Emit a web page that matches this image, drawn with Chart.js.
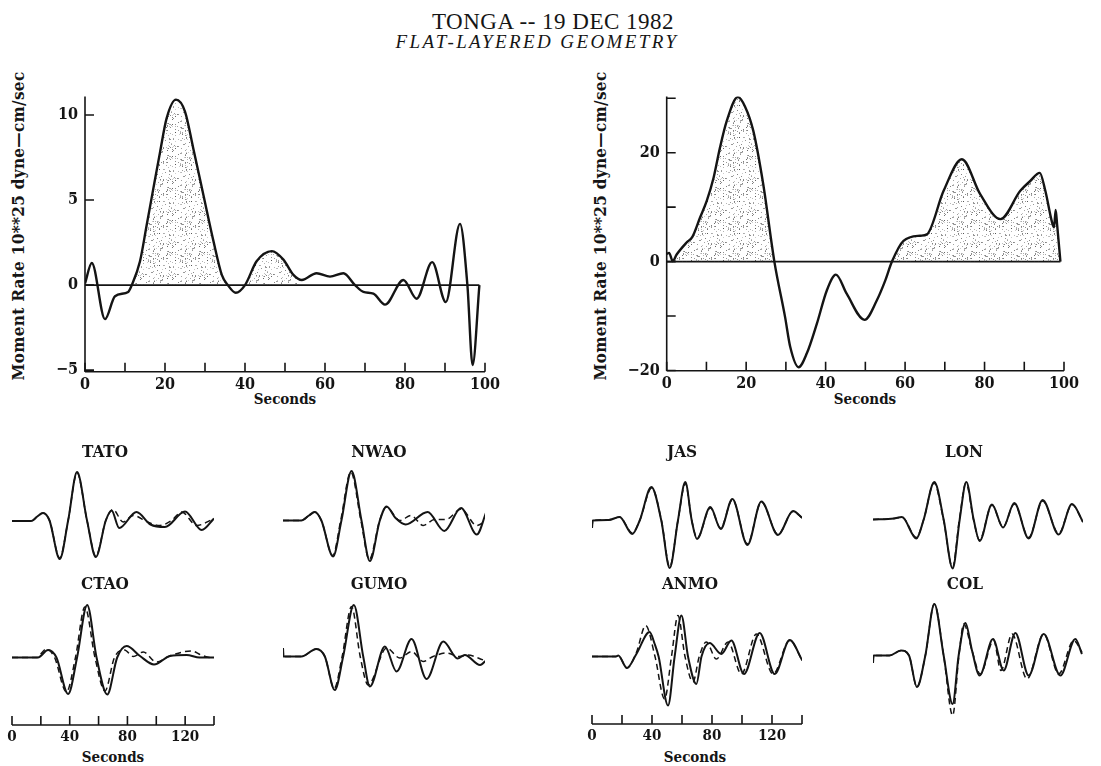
<!DOCTYPE html>
<html>
<head>
<meta charset="utf-8">
<script src="https://cdn.jsdelivr.net/npm/chart.js@4.4.1/dist/chart.umd.min.js"></script>
<style>
  html, body { margin:0; padding:0; background:#fff; }
  body { width:1101px; height:766px; position:relative; overflow:hidden; }
  canvas { position:absolute; }
  .txt { position:absolute; white-space:nowrap; color:#151515; line-height:1; transform:translate(-50%,-50%); }
  .bold { font-family:"DejaVu Serif Condensed","DejaVu Serif",serif; font-weight:bold; }
  .sta { font-size:17px; }
  .sec { font-size:15px; }
  .ylab { font-size:17px; letter-spacing:0.3px; transform:translate(-50%,-50%) rotate(-90deg); }
  #title { font-family:"Liberation Serif","Times New Roman",serif; font-size:23px; letter-spacing:0.5px; }
  #sub { font-family:"Liberation Serif","Times New Roman",serif; font-style:italic; font-size:19px; letter-spacing:2.4px; }
</style>
</head>
<body>
<div class="txt" id="title" style="left:553px;top:21px">TONGA -- 19 DEC 1982</div>
<div class="txt" id="sub" style="left:537px;top:41px">FLAT-LAYERED GEOMETRY</div>
<div class="txt bold ylab" style="left:18px;top:226px">Moment Rate 10**25 dyne—cm/sec</div>
<div class="txt bold ylab" style="left:600px;top:226px">Moment Rate 10**25 dyne—cm/sec</div>
<div class="txt bold sec" style="left:285px;top:399px">Seconds</div>
<div class="txt bold sec" style="left:865px;top:399px">Seconds</div>
<div class="txt bold sec" style="left:113px;top:757px">Seconds</div>
<div class="txt bold sec" style="left:695px;top:757px">Seconds</div>
<script>
// ---------------- DATA ----------------
// Moment rate function, left panel (seconds, 10**25 dyne-cm/sec)
const mrTimeA = [0, 1.7, 5.0, 7.5, 10.8, 11.7, 13.75, 15.4, 17.1, 18.75, 20.4, 22.75, 25.0, 27.1, 29.6, 32.1, 34.2, 35.7, 37.7, 40.0, 42.9, 46.7, 49.6, 52.1, 54.2, 57.9, 61.25, 64.6, 67.5, 69.6, 72.1, 75.0, 79.6, 82.9, 86.8, 90.2, 93.75, 95.6, 96.9, 98.6];
const mrRateA = [0.1, 1.3, -2.0, -0.65, -0.4, 0, 1.4, 3.5, 5.7, 7.8, 9.8, 10.9, 10.2, 8.0, 5.3, 2.6, 0.6, 0, -0.45, 0, 1.4, 2.0, 1.5, 0.6, 0.3, 0.7, 0.5, 0.7, 0, -0.4, -0.5, -1.15, 0.3, -0.8, 1.35, -1.0, 3.6, 0, -4.7, 0];
const mrShadeA = [[11.7, 35.7], [40.0, 52.1]];
const mrTicksA = [-5, 0, 5, 10];

// Moment rate function, right panel
const mrTimeB = [0, 0.6, 1.5, 2.5, 5.0, 6.5, 8.4, 10.1, 11.8, 13.4, 15.1, 17.9, 19.7, 21.8, 24.3, 27.1, 29.8, 31.1, 33.2, 35.3, 37.8, 40.3, 42.6, 45.3, 49.8, 52.9, 55.0, 56.7, 59.6, 63.8, 65.5, 69.7, 74.3, 78.9, 84.0, 89.0, 91.5, 93.9, 95.3, 97.0, 97.5, 97.9, 98.3, 99.1];
const mrRateB = [1.4, 1.6, 0.1, 1.3, 3.5, 4.6, 8.1, 11.2, 15.4, 20.9, 25.8, 30.2, 28.5, 24.0, 14.2, 0, -10.2, -15.7, -19.4, -16.8, -11.4, -5.3, -2.4, -5.9, -10.7, -7.1, -3.5, 0, 3.8, 4.75, 5.0, 13.0, 18.8, 12.4, 7.8, 13.0, 14.8, 16.3, 13.0, 7.2, 6.3, 9.5, 6.5, 0];
const mrShadeB = [[1.5, 27.1], [59.6, 99.1]];
const mrTicksB = [-20, -10, 0, 10, 20, 30];
const mrLabelsB = [-20, 0, 20];

const secTicks = [0, 10, 20, 30, 40, 50, 60, 70, 80, 90, 100];
const secLabels = [0, 20, 40, 60, 80, 100];
const waveTicks = [0, 20, 40, 60, 80, 100, 120, 140];
const waveLabels = [0, 40, 80, 120];

// Waveforms: observed (solid) and synthetic (dashed), seconds vs relative amplitude
const tatoObsT = [0, 13.4, 17.5, 21.5, 26, 33.1, 38.9, 45.1, 52, 58.1, 65, 69, 74.3, 86.3, 96, 106, 119.9, 131.5, 140];
const tatoObsV = [-0.01, -0.01, 0.08, 0.15, 0, -0.77, 0, 0.97, 0, -0.73, 0, 0.2, -0.15, 0.17, -0.08, -0.13, 0.18, -0.19, 0.04];
const tatoSynT = [0, 13.4, 17.5, 21.5, 26, 33.1, 38.9, 45.1, 52, 58.1, 65, 70, 77, 84, 94, 102.5, 110.6, 117.6, 128, 139.6];
const tatoSynV = [-0.01, -0.01, 0.08, 0.15, 0, -0.75, 0, 0.95, 0, -0.71, 0, 0.22, -0.03, 0.1, -0.03, -0.1, 0, 0.17, -0.1, 0.03];

const nwaoObsT = [0, 12.7, 18, 22, 26.6, 34.7, 40.5, 47.5, 54.4, 60.2, 67.1, 71.8, 78, 85, 100.2, 111.8, 123.4, 134.3, 141];
const nwaoObsV = [0, 0, 0.1, 0.17, 0, -0.72, 0, 0.99, 0, -0.81, 0, 0.28, 0.05, -0.08, 0.17, -0.21, 0.25, -0.28, 0.18];
const nwaoSynT = [0, 12.7, 18, 22, 26.6, 34.5, 40, 47, 54, 59.8, 67, 71.5, 81, 88.7, 97.2, 105, 113, 123.4, 134.3, 140];
const nwaoSynV = [0, 0, 0.1, 0.17, 0, -0.7, 0, 0.97, 0, -0.78, 0, 0.27, 0, 0.1, -0.1, 0.02, 0.02, 0.23, -0.1, -0.02];

const ctaoObsT = [0, 18, 25, 30.8, 38.9, 45.1, 52.1, 58.6, 66, 72.9, 79.4, 88.7, 98.4, 109.5, 121, 130, 141];
const ctaoObsV = [0, 0, 0.15, 0, -0.73, 0, 1.05, 0, -0.74, 0, 0.23, 0.03, -0.14, 0.03, 0.05, 0, 0];
const ctaoSynT = [0, 17, 23.8, 29.5, 37.7, 44, 50.5, 57.5, 64.4, 71, 78, 84, 91, 100, 110, 124.5, 131, 139.6];
const ctaoSynV = [0, 0, 0.17, 0, -0.69, 0, 1.01, 0, -0.67, 0, 0.15, 0.02, 0.11, -0.09, 0.04, 0.13, 0.05, -0.02];

const gumoObsT = [0, 0.4, 12.7, 23.1, 29, 35.9, 41.7, 49.1, 55.6, 60.2, 70.6, 78.7, 89.1, 99.5, 111.1, 121, 126, 136.6, 141];
const gumoObsV = [0.17, 0, 0, 0.15, 0, -0.67, 0, 1.03, 0, -0.6, 0.2, -0.3, 0.35, -0.45, 0.3, -0.04, 0.03, -0.17, -0.07];
const gumoSynT = [0, 0.4, 12.7, 23.1, 29, 35.5, 41, 47.5, 53.5, 59, 71.8, 81, 89.1, 97.2, 104, 113.4, 122, 128, 138.9];
const gumoSynV = [0.17, 0, 0, 0.15, 0, -0.64, 0, 1.0, 0, -0.57, 0.17, -0.03, 0.1, -0.1, 0, 0.07, 0, 0.03, -0.07];

const jasObsT = [0, 0.5, 11, 18.4, 26.9, 31.8, 39.6, 46.2, 51.8, 57.3, 62.2, 66.5, 70, 78.9, 85.8, 93.6, 103.6, 112.9, 124, 134, 140.2];
const jasObsV = [-0.15, 0, 0.01, 0.07, -0.27, 0, 0.67, 0, -0.95, 0, 0.77, 0, -0.37, 0.27, -0.17, 0.43, -0.49, 0.38, -0.29, 0.19, 0.05];
const jasSynT = [0, 0.5, 11, 18.4, 26.9, 31.8, 39.8, 46.3, 51.8, 57.3, 62.3, 66.5, 70.2, 78.9, 85.8, 93.6, 103.6, 112.9, 124, 134, 140.2];
const jasSynV = [-0.15, 0, 0.01, 0.07, -0.25, 0, 0.65, 0, -0.93, 0, 0.74, 0, -0.35, 0.25, -0.15, 0.42, -0.47, 0.37, -0.28, 0.18, 0.05];

const lonObsT = [0, 14, 19.3, 28.9, 33.8, 40.9, 47.1, 53.1, 57.8, 62.2, 67.1, 71.1, 79.3, 86.7, 94.2, 103.8, 113.1, 123.8, 132.7, 140];
const lonObsV = [0, 0.02, 0.05, -0.38, 0, 0.75, 0, -0.98, 0, 0.75, 0, -0.43, 0.3, -0.16, 0.33, -0.38, 0.39, -0.3, 0.31, -0.05];
const lonSynT = [0, 14, 19.3, 28.9, 33.8, 40.7, 47, 53, 57.6, 62, 67, 71, 79.3, 86.7, 94.2, 103.8, 113.1, 123.8, 132.7, 140];
const lonSynV = [0, 0.02, 0.05, -0.36, 0, 0.73, 0, -0.96, 0, 0.73, 0, -0.41, 0.29, -0.15, 0.31, -0.36, 0.37, -0.28, 0.3, -0.05];

const anmoObsT = [0, 16, 17.5, 23.3, 29.6, 38.4, 41.8, 44.4, 50.7, 55.1, 59.6, 64, 69.6, 73, 78.4, 86.2, 92.9, 101.3, 111.8, 121.8, 131.8, 140.2];
const anmoObsV = [0, 0, 0.02, -0.23, 0.05, 0.49, 0.25, 0, -0.98, 0, 0.82, 0, -0.55, 0, 0.27, 0.05, 0.32, -0.35, 0.47, -0.35, 0.33, -0.08];
const anmoSynT = [0, 16, 17.5, 23.3, 29.6, 35.8, 42, 48.4, 53, 57.3, 62, 67.3, 71.5, 76.2, 82.9, 90.7, 99.6, 109.6, 120.7, 131.8, 140.2];
const anmoSynV = [0, 0, 0.02, -0.23, 0.08, 0.62, 0, -0.85, 0, 0.82, 0, -0.51, 0, 0.29, -0.05, 0.29, -0.35, 0.45, -0.35, 0.32, -0.08];

const colObsT = [0, 0.4, 11, 18.7, 24, 29.3, 34.9, 40.9, 47.1, 53.1, 57.1, 61.6, 66, 71.1, 80, 87.1, 94.9, 103.8, 113.8, 124.9, 134.9, 139.3];
const colObsV = [-0.15, 0, 0, 0.1, 0, -0.63, 0, 1.03, 0, -0.97, 0, 0.65, 0.1, -0.4, 0.33, -0.3, 0.45, -0.4, 0.43, -0.4, 0.33, 0.03];
const colSynT = [0, 0.4, 11, 18.7, 24, 29.3, 34.9, 40.9, 47.1, 53.1, 57.3, 60.5, 66, 71.5, 80.4, 85.3, 92.7, 102.7, 113.8, 123.8, 133.8, 139.3];
const colSynV = [-0.15, 0, 0, 0.1, 0, -0.63, 0, 1.03, 0, -1.2, 0, 0.63, 0.1, -0.37, 0.3, -0.3, 0.43, -0.47, 0.43, -0.37, 0.3, 0.07];

// ---------------- LAYOUT ----------------
const SERIF = '"DejaVu Serif Condensed", "DejaVu Serif", serif';
const INK = '#141414';

const panels = [
  { name:'TATO', lx:105, ly:451, obsT:tatoObsT, obsV:tatoObsV, synT:tatoSynT, synV:tatoSynV, x0:12.3,  pps:1.44, base:520,   axis:false },
  { name:'NWAO', lx:379, ly:451, obsT:nwaoObsT, obsV:nwaoObsV, synT:nwaoSynT, synV:nwaoSynV, x0:283.3, pps:1.44, base:520,   axis:false },
  { name:'CTAO', lx:105, ly:583, obsT:ctaoObsT, obsV:ctaoObsV, synT:ctaoSynT, synV:ctaoSynV, x0:12.3,  pps:1.44, base:657.3, axis:true  },
  { name:'GUMO', lx:379, ly:583, obsT:gumoObsT, obsV:gumoObsV, synT:gumoSynT, synV:gumoSynV, x0:283.3, pps:1.44, base:656.7, axis:false },
  { name:'JAS',  lx:682, ly:451, obsT:jasObsT,  obsV:jasObsV,  synT:jasSynT,  synV:jasSynV,  x0:592.3, pps:1.5,  base:520,   axis:false },
  { name:'LON',  lx:964, ly:451, obsT:lonObsT,  obsV:lonObsV,  synT:lonSynT,  synV:lonSynV,  x0:872.7, pps:1.5,  base:519.3, axis:false },
  { name:'ANMO', lx:690, ly:583, obsT:anmoObsT, obsV:anmoObsV, synT:anmoSynT, synV:anmoSynV, x0:592.3, pps:1.5,  base:656,   axis:true  },
  { name:'COL',  lx:965, ly:583, obsT:colObsT,  obsV:colObsV,  synT:colSynT,  synV:colSynV,  x0:872.7, pps:1.5,  base:655,   axis:false }
];

// ---------------- HELPERS ----------------
function pts(ts, vs) { return ts.map((t, i) => ({ x: t, y: vs[i] })); }
function shadePts(ts, vs, wins) {
  return ts.map((t, i) => ({ x: t, y: wins.some(w => t >= w[0] && t <= w[1]) ? Math.max(0, vs[i]) : 0 }));
}
function fmt(v) { return v < 0 ? '\u2212' + Math.abs(v) : String(v); }
// stipple texture (deterministic speckle tile)
function stipple() {
  const N = 32;
  const c = document.createElement('canvas'); c.width = N; c.height = N;
  const g = c.getContext('2d');
  let s = 12345;
  const next = () => { s = (s * 1103515245 + 12345) % 2147483648; return s / 2147483648; };
  for (let i = 0; i < 150; i++) {
    const x = Math.floor(next() * N), y = Math.floor(next() * N);
    const a = 0.25 + 0.45 * next();
    g.fillStyle = 'rgba(70,70,70,' + a.toFixed(2) + ')';
    g.fillRect(x, y, 1, 1);
  }
  return g.createPattern(c, 'repeat');
}
function mkCanvas(left, top, w, h) {
  const c = document.createElement('canvas');
  c.width = w; c.height = h;
  c.style.left = left + 'px'; c.style.top = top + 'px';
  document.body.appendChild(c);
  return c;
}

const axesPlugin = {
  id: 'axes',
  beforeDatasetsDraw(chart, args, o) {
    if (!o.zero) return;
    const { ctx, scales: { x, y } } = chart;
    ctx.save();
    ctx.strokeStyle = INK; ctx.lineWidth = 1.6;
    const py = y.getPixelForValue(0);
    ctx.beginPath();
    ctx.moveTo(x.getPixelForValue(o.zero[0]), py);
    ctx.lineTo(x.getPixelForValue(o.zero[1]), py);
    ctx.stroke();
    ctx.restore();
  },
  afterDraw(chart, args, o) {
    const { ctx, chartArea: a } = chart;
    const len = o.len || 9;
    ctx.save();
    ctx.strokeStyle = INK; ctx.lineWidth = o.lw || 1.6;
    for (const s of Object.values(chart.scales)) {
      if (!s.options.display) continue;
      ctx.beginPath();
      if (s.isHorizontal()) { ctx.moveTo(a.left, a.bottom); ctx.lineTo(a.right, a.bottom); }
      else { ctx.moveTo(a.left, a.top); ctx.lineTo(a.left, a.bottom); }
      s.ticks.forEach((t, i) => {
        const p = s.getPixelForTick(i);
        if (s.isHorizontal()) { ctx.moveTo(p, a.bottom); ctx.lineTo(p, a.bottom - len); }
        else { ctx.moveTo(a.left, p); ctx.lineTo(a.left + len, p); }
      });
      ctx.stroke();
    }
    ctx.restore();
  }
};

Chart.defaults.font.family = SERIF;
Chart.defaults.color = INK;

// ---------------- TOP CHARTS ----------------
function topChart(cfg) {
  const c = mkCanvas(cfg.left, cfg.top, cfg.w, cfg.h);
  new Chart(c, {
    type: 'line',
    data: { datasets: [
      { data: pts(cfg.t, cfg.v), borderColor: INK, borderWidth: 2.4, pointRadius: 0, cubicInterpolationMode: 'monotone', fill: false, order: 0 },
      { data: shadePts(cfg.t, cfg.v, cfg.shade), borderColor: 'rgba(0,0,0,0)', borderWidth: 0, pointRadius: 0, cubicInterpolationMode: 'monotone', fill: 'origin', backgroundColor: stipple(), order: 1 }
    ]},
    options: {
      responsive: false, animation: false, events: [], devicePixelRatio: 1,
      layout: { padding: { left: 0, top: cfg.padTop, right: cfg.padRight, bottom: 0 } },
      plugins: { legend: { display: false }, tooltip: { enabled: false },
        axes: { len: 9, zero: [cfg.t[0], cfg.t[cfg.t.length - 1]] } },
      scales: {
        x: { type: 'linear', min: 0, max: 100,
          afterFit: s => { s.height = cfg.xh; },
          afterBuildTicks: s => { s.ticks = secTicks.map(v => ({ value: v })); },
          grid: { display: false, drawTicks: false }, border: { display: false },
          ticks: { autoSkip: false, maxRotation: 0, padding: 4, color: INK,
            font: { family: SERIF, size: 16, weight: 'bold' },
            callback: v => secLabels.includes(v) ? fmt(v) : '' } },
        y: { type: 'linear', min: cfg.ymin, max: cfg.ymax,
          afterFit: s => { s.width = cfg.yw; },
          afterBuildTicks: s => { s.ticks = cfg.yticks.map(v => ({ value: v })); },
          grid: { display: false, drawTicks: false }, border: { display: false },
          ticks: { autoSkip: false, padding: 7, color: INK,
            font: { family: SERIF, size: 16, weight: 'bold' },
            callback: v => cfg.ylabels.includes(v) ? fmt(v) : '' } }
      }
    },
    plugins: [axesPlugin]
  });
}

topChart({ left: 0, top: 80, w: 520, h: 340, padTop: 13, padRight: 35, xh: 48.3, yw: 85,
  ymin: -5.09, ymax: 11.08, yticks: mrTicksA, ylabels: mrTicksA,
  t: mrTimeA, v: mrRateA, shade: mrShadeA });
topChart({ left: 580, top: 80, w: 510, h: 340, padTop: 15, padRight: 26, xh: 49.3, yw: 86.7,
  ymin: -20.04, ymax: 30.3, yticks: mrTicksB, ylabels: mrLabelsB,
  t: mrTimeB, v: mrRateB, shade: mrShadeB });

// ---------------- WAVEFORM PANELS ----------------
const UNIT = 50, YMAX = 1.25, YMIN = -1.35, PADX = 22, AXH = 46;
function waveChart(p) {
  const pw = Math.round(140 * p.pps);
  const c = mkCanvas(p.x0 - PADX, p.base - YMAX * UNIT, pw + 2 * PADX, Math.round((YMAX - YMIN) * UNIT) + (p.axis ? AXH : 0));
  new Chart(c, {
    type: 'line',
    data: { datasets: [
      { data: pts(p.obsT, p.obsV), borderColor: INK, borderWidth: 2, pointRadius: 0, cubicInterpolationMode: 'monotone', fill: false },
      { data: pts(p.synT, p.synV), borderColor: INK, borderWidth: 1.5, borderDash: [6, 4], pointRadius: 0, cubicInterpolationMode: 'monotone', fill: false }
    ]},
    options: {
      responsive: false, animation: false, events: [], devicePixelRatio: 1,
      layout: { padding: { left: PADX, right: PADX, top: 0, bottom: 0 } },
      plugins: { legend: { display: false }, tooltip: { enabled: false }, axes: { len: 9 } },
      scales: {
        x: { type: 'linear', min: 0, max: 140, display: p.axis,
          afterFit: s => { s.height = p.axis ? AXH : 0; },
          afterBuildTicks: s => { s.ticks = waveTicks.map(v => ({ value: v })); },
          grid: { display: false, drawTicks: false }, border: { display: false },
          ticks: { autoSkip: false, maxRotation: 0, padding: 3, color: INK,
            font: { family: SERIF, size: 15, weight: 'bold' },
            callback: v => waveLabels.includes(v) ? String(v) : '' } },
        y: { type: 'linear', min: YMIN, max: YMAX, display: false,
          afterFit: s => { s.width = 0; } }
      }
    },
    plugins: [axesPlugin]
  });
  const d = document.createElement('div');
  d.className = 'txt bold sta';
  d.style.left = p.lx + 'px'; d.style.top = p.ly + 'px';
  d.textContent = p.name;
  document.body.appendChild(d);
}
panels.forEach(waveChart);
</script>
</body>
</html>
